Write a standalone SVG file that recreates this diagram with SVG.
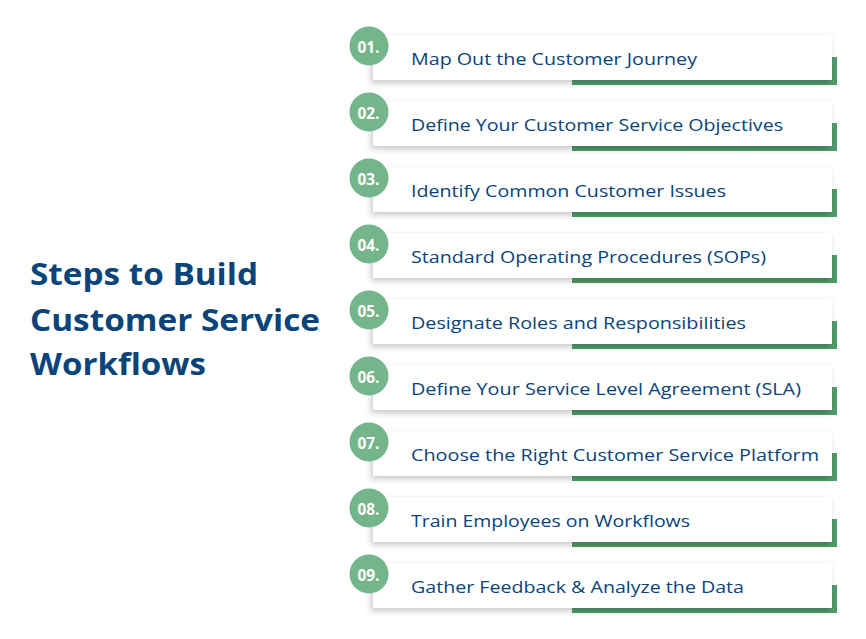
<svg xmlns="http://www.w3.org/2000/svg" width="866" height="639" viewBox="0 0 866 639">
<defs>
<filter id="sh" x="-10%" y="-30%" width="120%" height="170%">
<feDropShadow dx="-2" dy="3" stdDeviation="3" flood-color="#000" flood-opacity="0.22"/>
</filter>
<style>
.card{fill:#fff;filter:url(#sh)}
.bar{fill:#4f9b6b}
.dot{fill:#74b58c}
.num{font-family:"Open Sans","DejaVu Sans",sans-serif;font-weight:700;font-size:15.5px;fill:#fff}
.lbl{font-family:"Open Sans","DejaVu Sans",sans-serif;font-size:17px;fill:#0a4479}
.title{font-family:"Open Sans","DejaVu Sans",sans-serif;font-weight:700;font-size:30px;fill:#0a4479}
</style>
</defs>
<rect width="866" height="639" fill="#fff"/>
<g id="title">
<text class="title" x="30" y="285" textLength="228" lengthAdjust="spacingAndGlyphs">Steps to Build</text>
<text class="title" x="30" y="331" textLength="290" lengthAdjust="spacingAndGlyphs">Customer Service</text>
<text class="title" x="30" y="375" textLength="176" lengthAdjust="spacingAndGlyphs">Workflows</text>
</g>
<g id="step1" transform="translate(0,0)">
<rect class="bar" x="572" y="57" width="265" height="28"/><rect class="card" x="373" y="35" width="459" height="45"/>
<circle class="dot" cx="369" cy="46" r="19.5"/><text class="num" x="357.5" y="52.5" textLength="22" lengthAdjust="spacingAndGlyphs">01.</text>
<text class="lbl" x="411" y="65" textLength="286" lengthAdjust="spacingAndGlyphs">Map Out the Customer Journey</text>
</g>
<g id="step2" transform="translate(0,66)">
<rect class="bar" x="572" y="57" width="265" height="28"/><rect class="card" x="373" y="35" width="459" height="45"/>
<circle class="dot" cx="369" cy="46" r="19.5"/><text class="num" x="357.5" y="52.5" textLength="22" lengthAdjust="spacingAndGlyphs">02.</text>
<text class="lbl" x="411" y="65" textLength="372" lengthAdjust="spacingAndGlyphs">Define Your Customer Service Objectives</text>
</g>
<g id="step3" transform="translate(0,132)">
<rect class="bar" x="572" y="57" width="265" height="28"/><rect class="card" x="373" y="35" width="459" height="45"/>
<circle class="dot" cx="369" cy="46" r="19.5"/><text class="num" x="357.5" y="52.5" textLength="22" lengthAdjust="spacingAndGlyphs">03.</text>
<text class="lbl" x="411" y="65" textLength="315" lengthAdjust="spacingAndGlyphs">Identify Common Customer Issues</text>
</g>
<g id="step4" transform="translate(0,198)">
<rect class="bar" x="572" y="57" width="265" height="28"/><rect class="card" x="373" y="35" width="459" height="45"/>
<circle class="dot" cx="369" cy="46" r="19.5"/><text class="num" x="357.5" y="52.5" textLength="22" lengthAdjust="spacingAndGlyphs">04.</text>
<text class="lbl" x="411" y="65" textLength="355" lengthAdjust="spacingAndGlyphs">Standard Operating Procedures (SOPs)</text>
</g>
<g id="step5" transform="translate(0,264)">
<rect class="bar" x="572" y="57" width="265" height="28"/><rect class="card" x="373" y="35" width="459" height="45"/>
<circle class="dot" cx="369" cy="46" r="19.5"/><text class="num" x="357.5" y="52.5" textLength="22" lengthAdjust="spacingAndGlyphs">05.</text>
<text class="lbl" x="411" y="65" textLength="335" lengthAdjust="spacingAndGlyphs">Designate Roles and Responsibilities</text>
</g>
<g id="step6" transform="translate(0,330)">
<rect class="bar" x="572" y="57" width="265" height="28"/><rect class="card" x="373" y="35" width="459" height="45"/>
<circle class="dot" cx="369" cy="46" r="19.5"/><text class="num" x="357.5" y="52.5" textLength="22" lengthAdjust="spacingAndGlyphs">06.</text>
<text class="lbl" x="411" y="65" textLength="390" lengthAdjust="spacingAndGlyphs">Define Your Service Level Agreement (SLA)</text>
</g>
<g id="step7" transform="translate(0,396)">
<rect class="bar" x="572" y="57" width="265" height="28"/><rect class="card" x="373" y="35" width="459" height="45"/>
<circle class="dot" cx="369" cy="46" r="19.5"/><text class="num" x="357.5" y="52.5" textLength="22" lengthAdjust="spacingAndGlyphs">07.</text>
<text class="lbl" x="411" y="65" textLength="408" lengthAdjust="spacingAndGlyphs">Choose the Right Customer Service Platform</text>
</g>
<g id="step8" transform="translate(0,462)">
<rect class="bar" x="572" y="57" width="265" height="28"/><rect class="card" x="373" y="35" width="459" height="45"/>
<circle class="dot" cx="369" cy="46" r="19.5"/><text class="num" x="357.5" y="52.5" textLength="22" lengthAdjust="spacingAndGlyphs">08.</text>
<text class="lbl" x="411" y="65" textLength="279" lengthAdjust="spacingAndGlyphs">Train Employees on Workflows</text>
</g>
<g id="step9" transform="translate(0,528)">
<rect class="bar" x="572" y="57" width="265" height="28"/><rect class="card" x="373" y="35" width="459" height="45"/>
<circle class="dot" cx="369" cy="46" r="19.5"/><text class="num" x="357.5" y="52.5" textLength="22" lengthAdjust="spacingAndGlyphs">09.</text>
<text class="lbl" x="411" y="65" textLength="333" lengthAdjust="spacingAndGlyphs">Gather Feedback &amp; Analyze the Data</text>
</g>
<g id="connectors"/>
</svg>
